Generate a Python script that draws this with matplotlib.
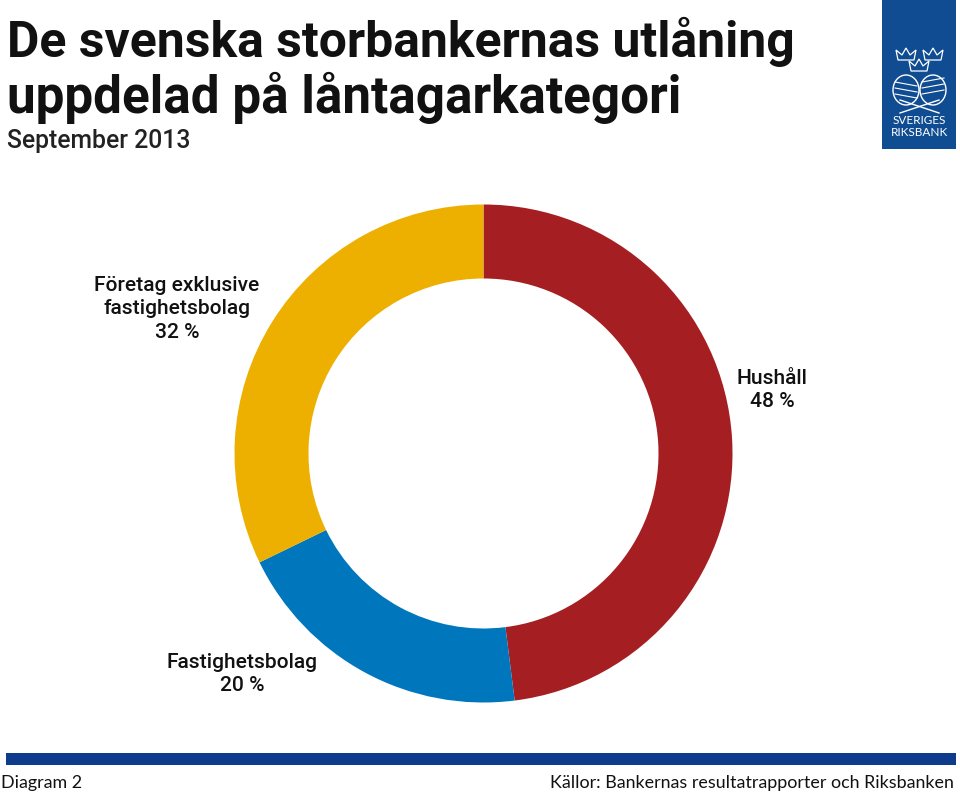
#!/usr/bin/env python3
"""Swedish major banks' lending by borrower category, September 2013."""
import matplotlib
matplotlib.use("Agg")
import matplotlib.pyplot as plt
from matplotlib.lines import Line2D
from matplotlib.patches import Ellipse, Polygon, Rectangle

W, H = 960, 793

# clockwise from 12 o'clock
categories = ["Hushåll", "Fastighetsbolag", "Företag exklusive\nfastighetsbolag"]
shares = [48.0, 19.8, 32.2]
share_labels = ["48 %", "20 %", "32 %"]
colors = ["#A51E22", "#0076BD", "#EEB000"]
label_pos = [(772, 390), (242, 674), (177, 309)]

plt.rcParams["font.family"] = ["Roboto", "DejaVu Sans"]

fig = plt.figure(figsize=(W / 100, H / 100), dpi=100)

# pie axes placed in pixel coords, centre (483.5, 453.5), outer radius 249
R = 249
ax = fig.add_axes([(483.5 - R) / W, 1 - (453.5 + R) / H, 2 * R / W, 2 * R / H])
ax.pie(shares, colors=colors, startangle=90, counterclock=False, radius=1.0,
       wedgeprops=dict(width=1 - 175 / 249, linewidth=0))
ax.set_xlim(-1, 1)
ax.set_ylim(-1, 1)
ax.set_aspect("equal")


def px(x, y):
    return x / W, 1 - y / H


fig.text(*px(7, 42), "De svenska storbankernas utlåning", fontsize=35.9, weight="bold",
         va="center", ha="left", color="#111111")
fig.text(*px(7, 98), "uppdelad på låntagarkategori", fontsize=36.9, weight="bold",
         va="center", ha="left", color="#111111")
fig.text(*px(7, 141), "September 2013", fontsize=17.8, weight="medium", va="center", ha="left",
         color="#222222")

for cat, lab, (x, y) in zip(categories, share_labels, label_pos):
    fig.text(*px(x, y), f"{cat}\n{lab}", fontsize=15.1, weight="medium", ha="center",
             va="center", linespacing=1.28, color="#111111")

# footer band
fig.add_artist(Rectangle(px(6, 765), 950 / W, 12 / H, transform=fig.transFigure,
                         facecolor="#0F3B8C", edgecolor="none"))
fig.text(*px(1, 783), "Diagram 2", fontsize=12.9, va="center", ha="left", color="#111111",
         family=["Lato", "DejaVu Sans"])
fig.text(*px(954, 783), "Källor: Bankernas resultatrapporter och Riksbanken", fontsize=12.9,
         va="center", ha="right", color="#111111", family=["Lato", "DejaVu Sans"])

# logo block
fig.add_artist(Rectangle(px(882, 149), 74 / W, 149 / H, transform=fig.transFigure,
                         facecolor="#0F4C92", edgecolor="none"))


def crown(cx, cy):
    pts = [(cx - 8, cy + 6), (cx - 10, cy - 4), (cx - 4, cy + 1), (cx, cy - 6),
           (cx + 4, cy + 1), (cx + 10, cy - 4), (cx + 8, cy + 6)]
    fig.add_artist(Polygon([px(*p) for p in pts], closed=True, transform=fig.transFigure,
                           facecolor="none", edgecolor="white", linewidth=0.9))


for cx, cy in [(906, 54), (933, 54), (919, 65)]:
    crown(cx, cy)

# shield pair, rough outline of the crest
for cx, ang in [(906, 20), (933, -20)]:
    fig.add_artist(Ellipse(px(cx, 90), 26 / W, 30 / H, transform=fig.transFigure,
                           facecolor="none", edgecolor="white", linewidth=1.0))
    for dy in (-8, -2, 4):
        fig.add_artist(Line2D([(cx - 11) / W, (cx + 11) / W],
                              [1 - (90 + dy) / H, 1 - (90 + dy + (4 if ang > 0 else -4)) / H],
                              transform=fig.transFigure, color="white", linewidth=0.8))
fig.add_artist(Line2D([900 / W, 939 / W], [1 - 113 / H, 1 - 100 / H],
                      transform=fig.transFigure, color="white", linewidth=1.0))
fig.add_artist(Line2D([900 / W, 939 / W], [1 - 100 / H, 1 - 113 / H],
                      transform=fig.transFigure, color="white", linewidth=1.0))

fig.text(*px(919, 121), "SVERIGES", fontsize=8.5, color="white", ha="center", va="center",
         family=["Lato", "DejaVu Sans"])
fig.text(*px(919, 132), "RIKSBANK", fontsize=8.5, color="white", ha="center", va="center",
         family=["Lato", "DejaVu Sans"])

fig.savefig("out.png", dpi=100)
